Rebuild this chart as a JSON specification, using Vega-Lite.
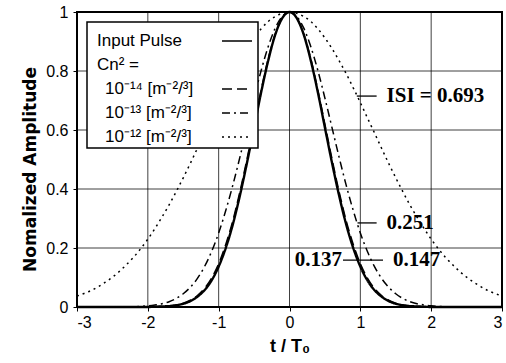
{
  "$schema": "https://vega.github.io/schema/vega-lite/v6.json",
  "width": 425,
  "height": 295,
  "autosize": {"type": "none"},
  "padding": {"left": 77, "top": 12, "right": 4, "bottom": 56},
  "background": "white",
  "config": {
    "view": {"stroke": "black", "strokeWidth": 2},
    "font": "Liberation Sans",
    "legend": {"strokeColor": "black", "strokeWidth": 1.5, "fillColor": "white"},
    "axis": {
      "grid": false,
      "labelFont": "Liberation Sans",
      "labelFontSize": 16,
      "labelColor": "black",
      "tickColor": "black",
      "tickSize": 4,
      "domain": false,
      "titleColor": "black",
      "titleFontWeight": "bold"
    }
  },
  "datasets": {
    "curves": [
      {"t": -3.0, "input": 0, "c14": 0, "c13": 0, "c12": 0.037},
      {"t": -2.9, "input": 0, "c14": 0, "c13": 0, "c12": 0.046},
      {"t": -2.8, "input": 0, "c14": 0, "c13": 0, "c12": 0.056},
      {"t": -2.7, "input": 0, "c14": 0, "c13": 0, "c12": 0.069},
      {"t": -2.6, "input": 0, "c14": 0, "c13": 0, "c12": 0.084},
      {"t": -2.5, "input": 0, "c14": 0, "c13": 0, "c12": 0.101},
      {"t": -2.4, "input": 0, "c14": 0, "c13": 0, "c12": 0.121},
      {"t": -2.3, "input": 0, "c14": 0, "c13": 0.001, "c12": 0.144},
      {"t": -2.2, "input": 0, "c14": 0, "c13": 0.001, "c12": 0.169},
      {"t": -2.1, "input": 0, "c14": 0, "c13": 0.002, "c12": 0.198},
      {"t": -2.0, "input": 0, "c14": 0, "c13": 0.004, "c12": 0.230},
      {"t": -1.9, "input": 0.001, "c14": 0.001, "c13": 0.007, "c12": 0.266},
      {"t": -1.8, "input": 0.002, "c14": 0.002, "c13": 0.011, "c12": 0.305},
      {"t": -1.7, "input": 0.003, "c14": 0.004, "c13": 0.018, "c12": 0.346},
      {"t": -1.6, "input": 0.006, "c14": 0.007, "c13": 0.029, "c12": 0.391},
      {"t": -1.5, "input": 0.011, "c14": 0.013, "c13": 0.045, "c12": 0.438},
      {"t": -1.4, "input": 0.020, "c14": 0.023, "c13": 0.067, "c12": 0.487},
      {"t": -1.3, "input": 0.035, "c14": 0.039, "c13": 0.097, "c12": 0.538},
      {"t": -1.2, "input": 0.057, "c14": 0.063, "c13": 0.137, "c12": 0.590},
      {"t": -1.1, "input": 0.090, "c14": 0.098, "c13": 0.188, "c12": 0.641},
      {"t": -1.0, "input": 0.137, "c14": 0.147, "c13": 0.251, "c12": 0.693},
      {"t": -0.9, "input": 0.200, "c14": 0.212, "c13": 0.327, "c12": 0.743},
      {"t": -0.8, "input": 0.280, "c14": 0.293, "c13": 0.413, "c12": 0.791},
      {"t": -0.7, "input": 0.378, "c14": 0.391, "c13": 0.508, "c12": 0.835},
      {"t": -0.6, "input": 0.489, "c14": 0.502, "c13": 0.608, "c12": 0.876},
      {"t": -0.5, "input": 0.608, "c14": 0.619, "c13": 0.708, "c12": 0.912},
      {"t": -0.4, "input": 0.728, "c14": 0.736, "c13": 0.802, "c12": 0.943},
      {"t": -0.3, "input": 0.836, "c14": 0.842, "c13": 0.883, "c12": 0.968},
      {"t": -0.2, "input": 0.924, "c14": 0.926, "c13": 0.946, "c12": 0.985},
      {"t": -0.1, "input": 0.980, "c14": 0.981, "c13": 0.986, "c12": 0.996},
      {"t": 0.0, "input": 1, "c14": 1, "c13": 1, "c12": 1},
      {"t": 0.1, "input": 0.980, "c14": 0.981, "c13": 0.986, "c12": 0.996},
      {"t": 0.2, "input": 0.924, "c14": 0.926, "c13": 0.946, "c12": 0.985},
      {"t": 0.3, "input": 0.836, "c14": 0.842, "c13": 0.883, "c12": 0.968},
      {"t": 0.4, "input": 0.728, "c14": 0.736, "c13": 0.802, "c12": 0.943},
      {"t": 0.5, "input": 0.608, "c14": 0.619, "c13": 0.708, "c12": 0.912},
      {"t": 0.6, "input": 0.489, "c14": 0.502, "c13": 0.608, "c12": 0.876},
      {"t": 0.7, "input": 0.378, "c14": 0.391, "c13": 0.508, "c12": 0.835},
      {"t": 0.8, "input": 0.280, "c14": 0.293, "c13": 0.413, "c12": 0.791},
      {"t": 0.9, "input": 0.200, "c14": 0.212, "c13": 0.327, "c12": 0.743},
      {"t": 1.0, "input": 0.137, "c14": 0.147, "c13": 0.251, "c12": 0.693},
      {"t": 1.1, "input": 0.090, "c14": 0.098, "c13": 0.188, "c12": 0.641},
      {"t": 1.2, "input": 0.057, "c14": 0.063, "c13": 0.137, "c12": 0.590},
      {"t": 1.3, "input": 0.035, "c14": 0.039, "c13": 0.097, "c12": 0.538},
      {"t": 1.4, "input": 0.020, "c14": 0.023, "c13": 0.067, "c12": 0.487},
      {"t": 1.5, "input": 0.011, "c14": 0.013, "c13": 0.045, "c12": 0.438},
      {"t": 1.6, "input": 0.006, "c14": 0.007, "c13": 0.029, "c12": 0.391},
      {"t": 1.7, "input": 0.003, "c14": 0.004, "c13": 0.018, "c12": 0.346},
      {"t": 1.8, "input": 0.002, "c14": 0.002, "c13": 0.011, "c12": 0.305},
      {"t": 1.9, "input": 0.001, "c14": 0.001, "c13": 0.007, "c12": 0.266},
      {"t": 2.0, "input": 0, "c14": 0, "c13": 0.004, "c12": 0.230},
      {"t": 2.1, "input": 0, "c14": 0, "c13": 0.002, "c12": 0.198},
      {"t": 2.2, "input": 0, "c14": 0, "c13": 0.001, "c12": 0.169},
      {"t": 2.3, "input": 0, "c14": 0, "c13": 0.001, "c12": 0.144},
      {"t": 2.4, "input": 0, "c14": 0, "c13": 0, "c12": 0.121},
      {"t": 2.5, "input": 0, "c14": 0, "c13": 0, "c12": 0.101},
      {"t": 2.6, "input": 0, "c14": 0, "c13": 0, "c12": 0.084},
      {"t": 2.7, "input": 0, "c14": 0, "c13": 0, "c12": 0.069},
      {"t": 2.8, "input": 0, "c14": 0, "c13": 0, "c12": 0.056},
      {"t": 2.9, "input": 0, "c14": 0, "c13": 0, "c12": 0.046},
      {"t": 3.0, "input": 0, "c14": 0, "c13": 0, "c12": 0.037}
    ],
    "gridX": [
      {"t": -2, "lo": 0, "hi": 1},
      {"t": -1, "lo": 0, "hi": 1},
      {"t": 0, "lo": 0, "hi": 1},
      {"t": 1, "lo": 0, "hi": 1},
      {"t": 2, "lo": 0, "hi": 1}
    ],
    "gridY": [
      {"amp": 0.2, "left": -3, "right": 3},
      {"amp": 0.4, "left": -3, "right": 3},
      {"amp": 0.6, "left": -3, "right": 3},
      {"amp": 0.8, "left": -3, "right": 3}
    ],
    "pointers": [
      {"t": 0.95, "t2": 1.23, "amp": 0.715},
      {"t": 0.96, "t2": 1.23, "amp": 0.285},
      {"t": 0.755, "t2": 1.32, "amp": 0.159}
    ],
    "notesLeft": [
      {"t": 1.37, "amp": 0.715, "label": "ISI = 0.693"},
      {"t": 1.37, "amp": 0.285, "label": "0.251"},
      {"t": 1.46, "amp": 0.159, "label": "0.147"}
    ],
    "notesRight": [
      {"t": 0.74, "amp": 0.159, "label": "0.137"}
    ]
  },
  "layer": [
    {
      "data": {"name": "gridX"},
      "mark": {"type": "rule", "color": "black", "strokeWidth": 1, "strokeOpacity": 0.75},
      "encoding": {
        "x": {"field": "t", "type": "quantitative", "scale": {"domain": [-3, 3], "nice": false, "zero": false},
          "axis": {
            "values": [-3, -2, -1, 0, 1, 2, 3],
            "labelExpr": "'' + datum.value",
            "labelPadding": 3,
            "title": "t / T₀",
            "titleFont": "Liberation Sans",
            "titleFontSize": 18,
            "titlePadding": 7
          }},
        "y": {"field": "lo", "type": "quantitative", "scale": {"domain": [0, 1], "nice": false},
          "axis": {
            "values": [0, 0.2, 0.4, 0.6, 0.8, 1],
            "format": "~g",
            "labelPadding": 5,
            "title": "Nomalized Amplitude",
            "titleFont": "DejaVu Sans",
            "titleFontSize": 17,
            "titlePadding": 6,
            "titleY": 157
          }},
        "y2": {"field": "hi"}
      }
    },
    {
      "data": {"name": "gridY"},
      "mark": {"type": "rule", "color": "black", "strokeWidth": 1, "strokeOpacity": 0.75},
      "encoding": {
        "y": {"field": "amp", "type": "quantitative"},
        "x": {"field": "left", "type": "quantitative"},
        "x2": {"field": "right"}
      }
    },
    {
      "data": {"name": "curves"},
      "transform": [{"fold": ["input", "c14", "c13", "c12"], "as": ["series", "amp"]}],
      "mark": {"type": "line", "color": "black", "interpolate": "monotone"},
      "encoding": {
        "x": {"field": "t", "type": "quantitative"},
        "y": {"field": "amp", "type": "quantitative"},
        "strokeDash": {
          "field": "series",
          "type": "nominal",
          "scale": {
            "domain": ["input", "cn", "c14", "c13", "c12"],
            "range": [[1, 0], [1, 0], [10, 5], [8, 4, 2, 4], [2, 4]]
          },
          "legend": {
            "title": null,
            "orient": "top-left",
            "offset": 10,
            "padding": 3,
            "symbolType": "stroke",
            "symbolSize": 900,
            "symbolStrokeColor": "black",
            "symbolStrokeWidth": 1.5,
            "symbolOffset": 131,
            "labelOffset": -156,
            "rowPadding": -8,
            "labelFont": "Liberation Sans",
            "labelFontSize": 17,
            "labelColor": "black",
            "labelLimit": 0,
            "labelExpr": "datum.value === 'input' ? 'Input Pulse' : datum.value === 'cn' ? 'Cn² =' : datum.value === 'c14' ? '10⁻¹⁴ [m⁻²/³]' : datum.value === 'c13' ? '10⁻¹³ [m⁻²/³]' : '10⁻¹² [m⁻²/³]'",
            "encode": {
              "symbols": {"update": {"opacity": {"signal": "datum.value === 'cn' ? 0 : 1"}}},
              "labels": {"update": {"dx": {"signal": "indexof(['c14', 'c13', 'c12'], datum.value) >= 0 ? 8 : 0"}}}
            }
          }
        },
        "strokeWidth": {
          "condition": {"test": "datum.series === 'input'", "value": 2.4},
          "value": 1.5
        }
      }
    },
    {
      "data": {"name": "pointers"},
      "mark": {"type": "rule", "color": "black", "strokeWidth": 1.3},
      "encoding": {
        "x": {"field": "t", "type": "quantitative"},
        "x2": {"field": "t2"},
        "y": {"field": "amp", "type": "quantitative"}
      }
    },
    {
      "data": {"name": "notesLeft"},
      "mark": {"type": "text", "align": "left", "baseline": "middle", "font": "Liberation Serif", "fontSize": 21, "fontWeight": "bold", "color": "black"},
      "encoding": {
        "x": {"field": "t", "type": "quantitative"},
        "y": {"field": "amp", "type": "quantitative"},
        "text": {"field": "label"}
      }
    },
    {
      "data": {"name": "notesRight"},
      "mark": {"type": "text", "align": "right", "baseline": "middle", "font": "Liberation Serif", "fontSize": 21, "fontWeight": "bold", "color": "black"},
      "encoding": {
        "x": {"field": "t", "type": "quantitative"},
        "y": {"field": "amp", "type": "quantitative"},
        "text": {"field": "label"}
      }
    }
  ]
}
